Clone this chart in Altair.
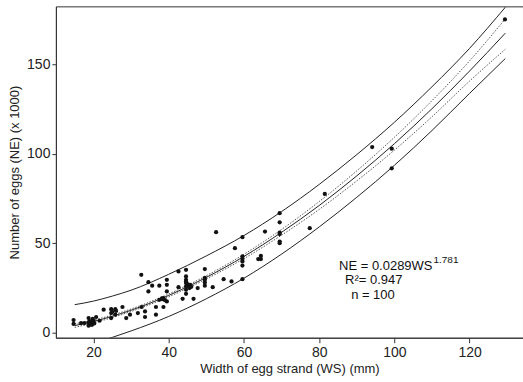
import altair as alt
import pandas as pd

# Observed data: width of egg strand (mm) vs number of eggs (x1000)
ws = [14.7, 14.7, 16.7, 17.6, 18.7, 18.7, 18.7, 19.0, 19.4, 19.6, 19.8, 20.0, 20.2, 20.7, 21.6, 22.7,
      24.7, 24.7, 24.7, 25.8, 25.8, 27.7, 28.7, 29.7, 31.8, 32.7, 32.8, 33.7, 33.7, 34.6, 34.6, 35.6,
      36.6, 36.6, 37.5, 37.5, 38.2, 38.6, 38.6, 39.5, 39.5, 39.5, 39.5, 42.6, 42.6, 43.7,
      44.6, 44.6, 44.6, 44.6, 44.6, 44.6, 44.6, 45.2, 45.5, 45.7, 46.6, 47.7,
      49.6, 49.6, 49.6, 49.6, 51.7, 52.6, 54.6, 56.7, 57.6,
      59.6, 59.6, 59.6, 59.6, 59.6, 59.6, 63.8, 64.5, 64.5, 65.6,
      69.5, 69.5, 69.5, 69.5, 69.5, 77.5, 81.5, 94.1, 99.3, 99.3, 129.4,
      19.2, 19.5, 20.0, 25.0, 26.0, 38.2, 39.0, 44.6, 45.0, 46.0, 49.6, 69.5]
ne = [6.9, 4.7, 5.2, 5.2, 8.0, 5.6, 3.7, 6.3, 5.0, 4.2, 7.5, 6.5, 5.0, 8.6, 6.5, 12.7,
      13.0, 10.8, 8.0, 13.0, 9.9, 14.2, 8.0, 9.9, 10.8, 32.2, 14.2, 11.7, 8.6, 28.1, 22.9, 26.1,
      14.2, 9.9, 26.1, 18.2, 18.6, 14.2, 19.2, 29.4, 26.6, 22.9, 17.3, 34.1, 25.3, 18.8,
      35.0, 31.3, 29.4, 27.6, 25.7, 23.8, 21.6, 26.6, 24.8, 26.6, 18.8, 24.8,
      35.4, 29.4, 27.9, 26.1, 25.3, 56.1, 29.8, 28.5, 47.1,
      53.3, 42.5, 41.0, 39.7, 37.4, 29.8, 41.0, 42.8, 41.0, 56.4,
      66.7, 61.6, 55.9, 50.8, 49.9, 58.3, 77.5, 103.7, 102.8, 91.8, 175.2,
      4.5, 6.0, 5.5, 11.5, 12.0, 19.0, 18.0, 28.5, 27.0, 25.5, 30.5, 55.0]

# Curves
curve_x = [15, 20, 25, 30, 40, 50, 60, 70, 80, 90, 100, 110, 120, 129.5]
fit_y = [3.8, 6.1, 9.0, 12.4, 20.7, 30.8, 42.5, 56.0, 71.0, 87.6, 105.6, 125.2, 146.3, 167.5]
ci_hi = [4.8, 6.9, 9.7, 13.1, 21.5, 31.7, 43.7, 57.6, 73.2, 90.4, 109.2, 129.7, 152.0, 175.5]
ci_lo = [2.8, 5.3, 8.3, 11.7, 19.9, 29.9, 41.3, 54.4, 68.8, 84.8, 102.0, 120.7, 140.7, 158.5]
pi_hi = [15.5, 17.5, 20.3, 23.6, 32.5, 42.8, 54.2, 67.6, 82.8, 99.5, 117.6, 137.5, 159.0, 182.0]
pi_lo_x = [20, 25, 30, 40, 50, 60, 70, 80, 90, 100, 110, 120, 129.5]
pi_lo = [-6.3, -2.8, 0.8, 8.9, 18.8, 30.3, 43.8, 59.0, 75.6, 93.5, 113.0, 133.8, 153.3]

x_ticks = [20, 40, 60, 80, 100, 120]
y_ticks = [0, 50, 100, 150]

FONT = "Liberation Sans"
XDOM = [10, 134.2]
YDOM = [-3, 182.5]

xs = alt.Scale(domain=XDOM, nice=False, zero=False)
ys = alt.Scale(domain=YDOM, nice=False, zero=False)

pts = pd.DataFrame({"WS": ws, "NE": ne})

base_x = alt.X("WS:Q", scale=xs,
               axis=alt.Axis(values=x_ticks, title="Width of egg strand (WS) (mm)",
                             grid=False, tickSize=5, labelPadding=3, titlePadding=3))
base_y = alt.Y("NE:Q", scale=ys,
               axis=alt.Axis(values=y_ticks, title="Number of eggs (NE) (x 1000)",
                             grid=False, tickSize=4, labelPadding=2, titlePadding=5))


def curve(xv, yv, dash=None, color="#222"):
    df = pd.DataFrame({"WS": xv, "NE": yv})
    kw = dict(color=color, strokeWidth=1, clip=True, interpolate="monotone")
    if dash:
        kw["strokeDash"] = dash
    return alt.Chart(df).mark_line(**kw).encode(
        x=alt.X("WS:Q", scale=xs), y=alt.Y("NE:Q", scale=ys))


points = alt.Chart(pts).mark_circle(size=18, color="#111", opacity=1).encode(x=base_x, y=base_y)

lines = [
    curve(curve_x, pi_hi),
    curve(pi_lo_x, pi_lo),
    curve(curve_x, fit_y),
    curve(curve_x, ci_hi, dash=[1.5, 1.5], color="#555"),
    curve(curve_x, ci_lo, dash=[1.5, 1.5], color="#555"),
]

ann_main = pd.DataFrame({
    "WS": [85.3, 86.9, 88.5],
    "NE": [37.4, 29.4, 21.0],
    "t": ["NE = 0.0289WS", "R\u00b2= 0.947", "n = 100"],
})
ann_sup = pd.DataFrame({"WS": [110.4], "NE": [40.6], "t": ["1.781"]})

txt_main = alt.Chart(ann_main).mark_text(align="left", baseline="middle", fontSize=13,
                                         font=FONT, color="#111").encode(
    x=alt.X("WS:Q", scale=xs), y=alt.Y("NE:Q", scale=ys), text="t:N")
txt_sup = alt.Chart(ann_sup).mark_text(align="left", baseline="middle", fontSize=10,
                                       font=FONT, color="#111").encode(
    x=alt.X("WS:Q", scale=xs), y=alt.Y("NE:Q", scale=ys), text="t:N")

chart = alt.layer(*lines, points, txt_main, txt_sup).properties(
    width=468, height=332,
    autosize=alt.AutoSizeParams(type="none"),
    padding={"left": 56, "top": 6, "right": 0, "bottom": 44},
    background="white",
).configure_view(stroke="#333", strokeWidth=1).configure_axis(
    labelFont=FONT, titleFont=FONT, labelFontSize=14, titleFontSize=13,
    labelColor="#222", titleColor="#222", titleFontWeight="normal",
    domainColor="#333", tickColor="#333",
)

chart.save("out.html", embed_options={"renderer": "svg", "actions": False})
